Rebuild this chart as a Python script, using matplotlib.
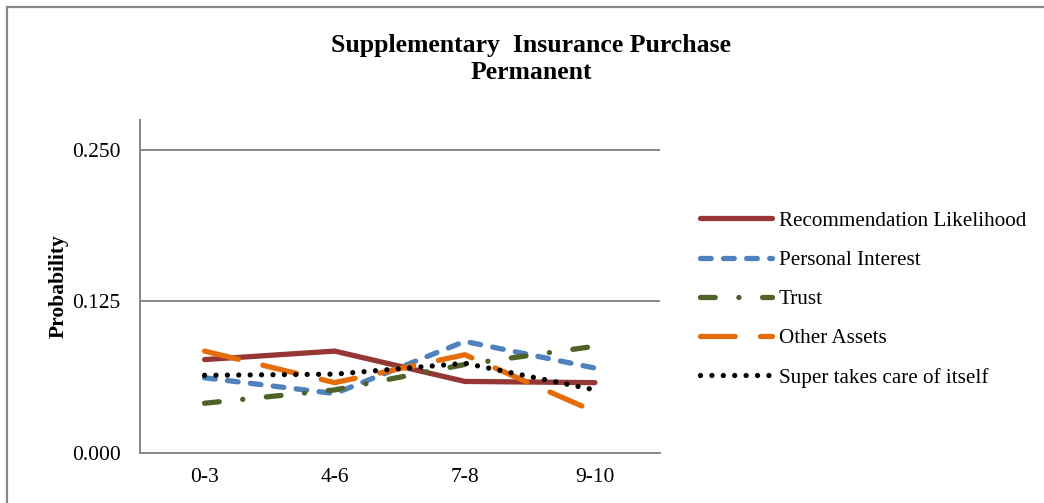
import matplotlib
matplotlib.use("Agg")
import matplotlib.pyplot as plt
from matplotlib.lines import Line2D

plt.rcParams['font.family'] = ['Liberation Serif', 'DejaVu Serif']
plt.rcParams['lines.scale_dashes'] = False

categories = ["0-3", "4-6", "7-8", "9-10"]
recommendation = [0.077, 0.084, 0.059, 0.058]
personal_interest = [0.062, 0.049, 0.092, 0.070]
trust = [0.041, 0.052, 0.073, 0.088]
other_assets = [0.084, 0.058, 0.081, 0.034]
super_itself = [0.064, 0.065, 0.074, 0.052]

series = [
    ("Recommendation Likelihood", recommendation, "#953735", None),
    ("Personal Interest", personal_interest, "#4F81BD", (0, (7.7, 8.9))),
    ("Trust", trust, "#4F6228", (0, (10.6, 17.0, 0.1, 17.0))),
    ("Other Assets", other_assets, "#E46C0A", (0, (25.0, 18.2))),
    ("Super takes care of itself", super_itself, "#000000", (0, (0.01, 8.2))),
]

W, H = 1044, 503
fig = plt.figure(figsize=(W / 100, H / 100), dpi=100)
ax = fig.add_axes([139.5 / W, 1 - 453 / H, (660 - 139.5) / W, (453 - 120) / H])

x = range(len(categories))
for name, vals, col, dash in series:
    if dash is None:
        ax.plot(x, vals, color=col, lw=3.8, label=name, solid_capstyle='round')
    else:
        ax.plot(x, vals, color=col, lw=3.8, label=name, linestyle=dash,
                dash_capstyle='round')

grey = "#878787"
ax.set_xlim(-0.5, 3.5)
ax.set_ylim(0, 0.2745)
ax.set_yticks([0.0, 0.125, 0.25])
ax.set_yticklabels(["0.000", "0.125", "0.250"])
ax.set_xticks(list(x))
ax.set_xticklabels(categories)
ax.tick_params(axis='both', length=0, labelsize=15.5, colors='black')
ax.tick_params(axis='y', pad=13.5)
ax.tick_params(axis='x', pad=11)
for y in [0.125, 0.25]:
    ax.axhline(y, color=grey, lw=1.4, zorder=0)
for s in ['top', 'right']:
    ax.spines[s].set_visible(False)
for s in ['left', 'bottom']:
    ax.spines[s].set_color(grey)
    ax.spines[s].set_linewidth(1.4)

ax.set_ylabel("Probability", fontsize=15.5, fontweight='bold')
ax.yaxis.set_label_coords(-0.137, 0.5)

fig.text(531 / W, 1 - 59 / H, "Supplementary  Insurance Purchase\nPermanent",
         ha='center', va='center', fontsize=18.5, fontweight='bold', linespacing=1.25)

ax.legend(loc='upper left', bbox_to_anchor=(700 / W, 1 - 211 / H),
          bbox_transform=fig.transFigure, frameon=False, fontsize=15.2,
          handlelength=3.4, handletextpad=0.33, labelspacing=0.92,
          borderpad=0, borderaxespad=0)

# outer chart border (top and left edges)
fig.add_artist(Line2D([7 / W, 7 / W], [0, 1 - 7 / H], color=grey, lw=1.6))
fig.add_artist(Line2D([7 / W, 1], [1 - 7 / H, 1 - 7 / H], color=grey, lw=1.6))

fig.savefig("out.png", dpi=100)
